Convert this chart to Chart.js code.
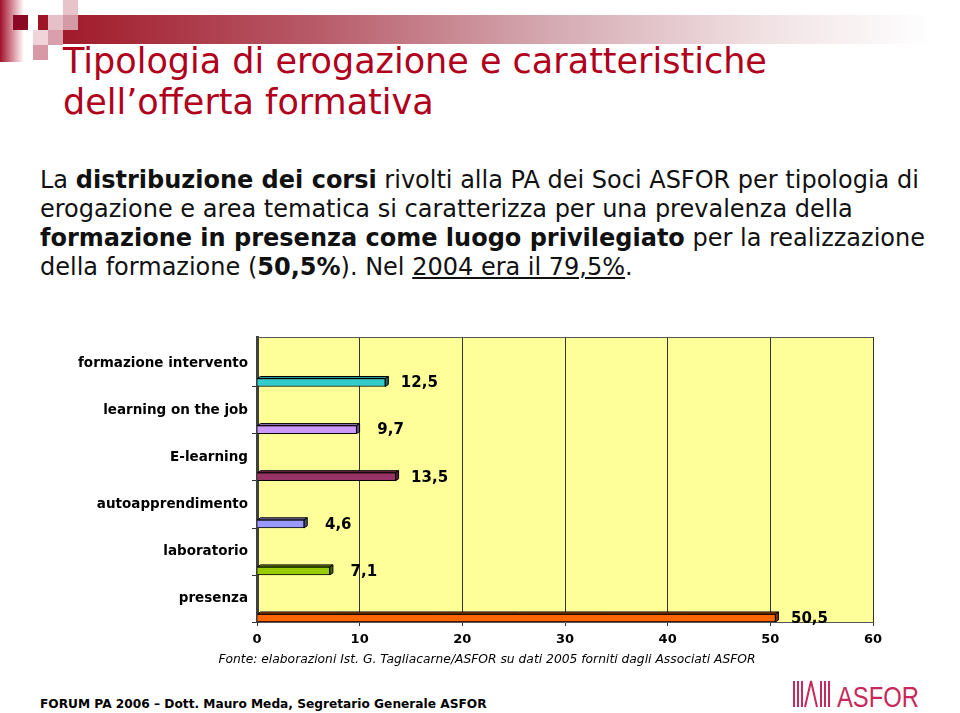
<!DOCTYPE html>
<html>
<head>
<meta charset="utf-8">
<script src="https://cdn.jsdelivr.net/npm/chart.js@4.4.1/dist/chart.umd.min.js"></script>
<style>
  body { margin: 0; width: 960px; height: 713px; background: #fff; position: relative; overflow: hidden; font-family: "DejaVu Sans", Verdana, sans-serif; }
  .abs { position: absolute; }
  #titolo { left: 63px; top: 41px; font-size: 35px; line-height: 41px; color: #B0001C; white-space: nowrap; }
  #testo { left: 40px; top: 166px; font-size: 24px; line-height: 29px; color: #111; white-space: nowrap; }
  #fonte { left: 0; width: 974px; top: 652px; text-align: center; font-size: 12.3px; font-style: italic; color: #000; white-space: nowrap; }
  #piede { left: 40px; top: 697px; font-size: 12.2px; font-weight: bold; color: #000; white-space: nowrap; }
  #box { left: 0; top: 320px; width: 960px; height: 340px; }
</style>
</head>
<body>

<!-- decorazione in alto a sinistra -->
<div class="abs" style="left:0;top:0;width:24px;height:62px;background:linear-gradient(to right,#a0102a,#e8b8c0 70%,#fff);"></div>
<div class="abs" style="left:38px;top:15px;width:922px;height:29px;background:linear-gradient(to right,#9e1424,#b85a68 30%,#d4a8b0 55%,#f2e4e6 80%,#fff 97%);"></div>
<div class="abs" style="left:13px;top:15px;width:15px;height:15px;background:#8a0a26;"></div>
<div class="abs" style="left:63px;top:0;width:15px;height:15px;background:#e8c4ca;"></div>
<div class="abs" style="left:48px;top:15px;width:15px;height:15px;background:#e6c0c8;"></div>
<div class="abs" style="left:63px;top:15px;width:15px;height:15px;background:#d49aa6;"></div>
<div class="abs" style="left:33px;top:30px;width:15px;height:15px;background:#f0d4da;"></div>
<div class="abs" style="left:48px;top:30px;width:15px;height:15px;background:#d8a0ac;"></div>
<div class="abs" style="left:33px;top:45px;width:15px;height:15px;background:#d898a6;"></div>

<div id="titolo" class="abs">Tipologia di erogazione e caratteristiche<br>dell’offerta formativa</div>

<div id="testo" class="abs">La <b>distribuzione dei corsi</b> rivolti alla PA dei Soci ASFOR per tipologia di<br>erogazione e area tematica si caratterizza per una prevalenza della<br><b>formazione in presenza come luogo privilegiato</b> per la realizzazione<br>della formazione (<b>50,5%</b>). Nel <u>2004 era il 79,5%</u>.</div>

<div id="box" class="abs"><canvas id="grafico"></canvas></div>

<div id="fonte" class="abs">Fonte: elaborazioni Ist. G. Tagliacarne/ASFOR su dati 2005 forniti dagli Associati ASFOR</div>
<div id="piede" class="abs">FORUM PA 2006 – Dott. Mauro Meda, Segretario Generale ASFOR</div>

<!-- logo ASFOR -->
<svg class="abs" style="left:790px;top:678px;" width="135" height="32">
  <g stroke="#c8285a" stroke-width="2" fill="none">
    <line x1="4" y1="3" x2="4" y2="29"/><line x1="8" y1="3" x2="8" y2="29"/><line x1="12" y1="3" x2="12" y2="29"/>
    <polyline points="15,29 21,3 27,29"/>
    <line x1="31" y1="3" x2="31" y2="29"/><line x1="35" y1="3" x2="35" y2="29"/><line x1="39" y1="3" x2="39" y2="29"/>
  </g>
  <text x="47" y="29" fill="#c8285a" font-family="Liberation Sans, Arial, sans-serif" font-size="30" textLength="82" lengthAdjust="spacingAndGlyphs">ASFOR</text>
</svg>

<script>
// dati del grafico
const categorie = ["formazione intervento", "learning on the job", "E-learning", "autoapprendimento", "laboratorio", "presenza"];
const valori = [12.5, 9.7, 13.5, 4.6, 7.1, 50.5];
const colori = ["#33CCCC", "#CC99FF", "#993366", "#9999FF", "#99CC00", "#FF6600"];
const tickX = [0, 10, 20, 30, 40, 50, 60];

// scurisce un colore hex
function scurisci(hex, f) {
  const n = parseInt(hex.slice(1), 16);
  const r = Math.round(((n >> 16) & 255) * f);
  const g = Math.round(((n >> 8) & 255) * f);
  const b = Math.round((n & 255) * f);
  return "rgb(" + r + "," + g + "," + b + ")";
}

// sfondo giallo e bordo superiore dell'area del grafico
const sfondo = {
  id: "sfondo",
  beforeDraw(chart) {
    const { ctx, chartArea: a } = chart;
    ctx.save();
    ctx.fillStyle = "#FFFF99";
    ctx.fillRect(a.left, a.top, a.right - a.left, a.bottom - a.top);
    ctx.restore();
  },
  afterDraw(chart) {
    const { ctx, chartArea: a } = chart;
    ctx.save();
    ctx.strokeStyle = "#555";
    ctx.lineWidth = 1;
    ctx.beginPath();
    ctx.moveTo(a.left, a.top + 0.5);
    ctx.lineTo(a.right, a.top + 0.5);
    ctx.stroke();
    ctx.restore();
  },
};

// effetto 3D sulle barre + etichette dei valori
const barre3d = {
  id: "barre3d",
  afterDatasetsDraw(chart) {
    const ctx = chart.ctx;
    const meta = chart.getDatasetMeta(0);
    ctx.save();
    meta.data.forEach(function (bar, i) {
      const top = bar.y - bar.height / 2;
      const bottom = bar.y + bar.height / 2;
      const d = 3;
      ctx.lineWidth = 1;
      ctx.strokeStyle = "#000";
      // faccia superiore
      ctx.fillStyle = scurisci(colori[i], 0.75);
      ctx.beginPath();
      ctx.moveTo(bar.base, top);
      ctx.lineTo(bar.base + d, top - 2);
      ctx.lineTo(bar.x + d, top - 2);
      ctx.lineTo(bar.x, top);
      ctx.closePath();
      ctx.fill();
      ctx.stroke();
      // faccia laterale
      ctx.fillStyle = scurisci(colori[i], 0.5);
      ctx.beginPath();
      ctx.moveTo(bar.x, top);
      ctx.lineTo(bar.x + d, top - 2);
      ctx.lineTo(bar.x + d, bottom - 2);
      ctx.lineTo(bar.x, bottom);
      ctx.closePath();
      ctx.fill();
      ctx.stroke();
      // valore
      ctx.fillStyle = "#000";
      ctx.font = "bold 15px 'DejaVu Sans'";
      ctx.textAlign = "center";
      ctx.textBaseline = "middle";
      ctx.fillText(valori[i].toFixed(1).replace(".", ","), bar.x + 34, bar.y + 1);
    });
    ctx.restore();
  },
};

new Chart(document.getElementById("grafico"), {
  type: "bar",
  data: {
    datasets: [
      {
        data: valori.map((v, i) => ({ x: v, y: i })),
        backgroundColor: colori,
        borderColor: "#000",
        borderWidth: 1,
        borderSkipped: "start",
        barThickness: 8,
      },
    ],
  },
  options: {
    indexAxis: "y",
    responsive: true,
    maintainAspectRatio: false,
    animation: false,
    layout: { padding: { left: 0, right: 87, top: 17, bottom: 0 } },
    plugins: {
      legend: { display: false },
      tooltip: { enabled: false },
    },
    scales: {
      x: {
        type: "linear",
        min: tickX[0],
        max: tickX[tickX.length - 1],
        afterFit: (s) => { s.height = 38; },
        ticks: {
          stepSize: 10,
          padding: 6,
          color: "#000",
          font: { family: "DejaVu Sans", size: 13, weight: "bold" },
        },
        grid: { color: "#333", lineWidth: 1, tickLength: 4 },
        border: { color: "#555", width: 1 },
      },
      y: {
        type: "linear",
        reverse: true,
        offset: false,
        bounds: "data",
        min: -0.966,
        max: 5.085,
        afterFit: (s) => { s.width = 257; },
        afterBuildTicks: (s) => {
          s.ticks = categorie.map((c, i) => ({ value: i + 0.09 }));
        },
        ticks: {
          autoSkip: false,
          padding: 4,
          labelOffset: -23.5,
          color: "#000",
          font: { family: "DejaVu Sans", size: 13.5, weight: "bold" },
          callback: (v, i) => categorie[i],
        },
        grid: { offset: false, drawOnChartArea: false, drawTicks: true, tickLength: 5, color: "#333" },
        border: { color: "#404040", width: 3 },
      },
    },
  },
  plugins: [sfondo, barre3d],
});
</script>
</body>
</html>
